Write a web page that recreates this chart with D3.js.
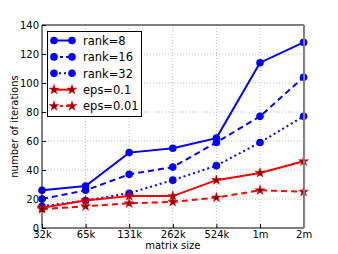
<!DOCTYPE html>
<html>
<head>
<meta charset="utf-8">
<script src="https://cdn.jsdelivr.net/npm/d3@7"></script>
<style>
  body { margin: 0; background: #fff; }
  text { font-family: "DejaVu Sans", sans-serif; }
</style>
</head>
<body>
<svg width="338" height="254"></svg>
<script>
var sizes = ["32k", "65k", "131k", "262k", "524k", "1m", "2m"];
var yTicks = [0, 20, 40, 60, 80, 100, 120, 140];

var rank8  = [26, 29, 52, 55, 62, 114, 128];
var rank16 = [20, 26, 37, 42, 59, 77, 104];
var rank32 = [15, 19, 24, 33, 43, 59, 77];
var eps01  = [14, 19, 22, 22, 33, 38, 46];
var eps001 = [13, 15, 17, 18, 21, 26, 25];

var series = [
  {name: "rank=8",   values: rank8,  color: "#0000ff", dash: null,  marker: "circle"},
  {name: "rank=16",  values: rank16, color: "#0000ff", dash: "6,4", marker: "circle"},
  {name: "rank=32",  values: rank32, color: "#0000ff", dash: "2,3", marker: "circle"},
  {name: "eps=0.1",  values: eps01,  color: "#ff0000", dash: null,  marker: "star"},
  {name: "eps=0.01", values: eps001, color: "#ff0000", dash: "6,4", marker: "star"}
];

var svg = d3.select("svg");
var pL = 42, pT = 25, pR = 303.6, pB = 228;

var x = d3.scalePoint().domain(sizes).range([pL, pR]);
var y = d3.scaleLinear().domain([0, 140]).range([pB, pT]);

// grid
var grid = svg.append("g");
grid.selectAll(".gx").data(sizes.slice(1, -1)).enter().append("line")
  .attr("x1", function(d) { return x(d); }).attr("x2", function(d) { return x(d); })
  .attr("y1", pT).attr("y2", pB)
  .attr("stroke", "#aaa").attr("stroke-width", 0.8).attr("stroke-dasharray", "1,2");
grid.selectAll(".gy").data(yTicks.slice(1, -1)).enter().append("line")
  .attr("x1", pL).attr("x2", pR)
  .attr("y1", function(d) { return y(d); }).attr("y2", function(d) { return y(d); })
  .attr("stroke", "#aaa").attr("stroke-width", 0.8).attr("stroke-dasharray", "1,2");

// axes (ticks inward)
svg.append("g").attr("transform", "translate(0," + pB + ")")
  .call(d3.axisBottom(x).tickSizeInner(-4).tickSizeOuter(0).tickPadding(3))
  .call(function(g) { g.select(".domain").remove(); })
  .selectAll("text").attr("font-size", 10).attr("fill", "#000");
svg.append("g").attr("transform", "translate(" + pL + ",0)")
  .call(d3.axisLeft(y).tickValues(yTicks).tickSizeInner(-4).tickSizeOuter(0).tickPadding(3))
  .call(function(g) { g.select(".domain").remove(); })
  .selectAll("text").attr("font-size", 10).attr("fill", "#000");

var star = d3.symbol().type(d3.symbolStar).size(30);

var line = d3.line()
  .x(function(d, i) { return x(sizes[i]); })
  .y(function(d) { return y(d); });

series.forEach(function(s) {
  var g = svg.append("g");
  g.append("path").datum(s.values)
    .attr("d", line).attr("fill", "none")
    .attr("stroke", s.color).attr("stroke-width", 2)
    .attr("stroke-dasharray", s.dash);
  if (s.marker === "circle") {
    g.selectAll("circle").data(s.values).enter().append("circle")
      .attr("cx", function(d, i) { return x(sizes[i]); })
      .attr("cy", function(d) { return y(d); })
      .attr("r", 3.8).attr("fill", "#0000ff");
  } else {
    g.selectAll("path.m").data(s.values).enter().append("path")
      .attr("class", "m").attr("d", star)
      .attr("transform", function(d, i) { return "translate(" + x(sizes[i]) + "," + y(d) + ")"; })
      .attr("fill", "#8b0000").attr("stroke", "#ff0000").attr("stroke-width", 0.5);
  }
});

// frame
svg.append("rect").attr("x", pL).attr("y", pT)
  .attr("width", pR - pL).attr("height", pB - pT)
  .attr("fill", "none").attr("stroke", "#000").attr("stroke-width", 1);
svg.append("line").attr("x1", pR + 0.5).attr("x2", pR + 0.5)
  .attr("y1", pT).attr("y2", pB)
  .attr("stroke", "#888").attr("stroke-width", 2);

// labels
svg.append("text").attr("x", (pL + pR) / 2).attr("y", 248.5)
  .attr("text-anchor", "middle").attr("font-size", 10).text("matrix size");
svg.append("text").attr("transform", "translate(18," + (pT + pB) / 2 + ") rotate(-90)")
  .attr("text-anchor", "middle").attr("font-size", 10).text("number of iterations");

// legend
var lg = svg.append("g");
lg.append("rect").attr("x", 47.5).attr("y", 31.5).attr("width", 94).attr("height", 85)
  .attr("fill", "#fff").attr("stroke", "#000").attr("stroke-width", 1);
series.forEach(function(s, i) {
  var ly = 40.5 + i * 16.4;
  var e = lg.append("g");
  e.append("line").attr("x1", 54).attr("x2", 72).attr("y1", ly).attr("y2", ly)
    .attr("stroke", s.color).attr("stroke-width", 2)
    .attr("stroke-dasharray", s.dash === "6,4" ? "3,3" : s.dash);
  [54, 72].forEach(function(mx) {
    if (s.marker === "circle") {
      e.append("circle").attr("cx", mx).attr("cy", ly).attr("r", 3.8).attr("fill", "#0000ff");
    } else {
      e.append("path").attr("d", star).attr("transform", "translate(" + mx + "," + ly + ")")
        .attr("fill", "#8b0000").attr("stroke", "#ff0000").attr("stroke-width", 0.5);
    }
  });
  e.append("text").attr("x", 83).attr("y", ly + 4.2).attr("font-size", 11.5).text(s.name);
});
</script>
</body>
</html>
